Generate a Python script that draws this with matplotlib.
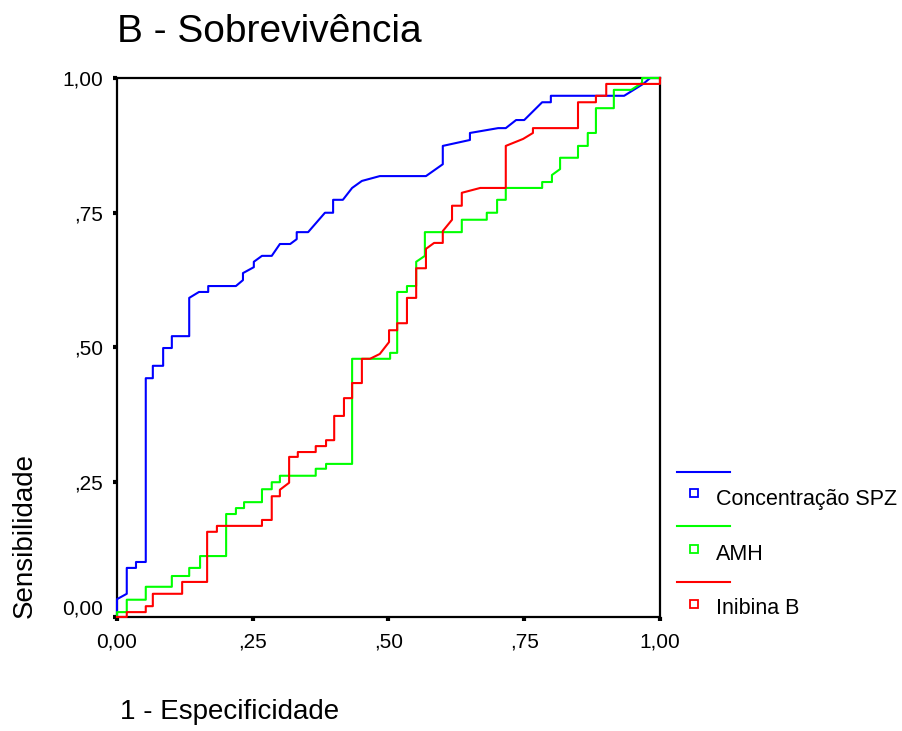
import matplotlib
matplotlib.use('Agg')
import matplotlib.pyplot as plt
from matplotlib.lines import Line2D
from matplotlib.transforms import ScaledTranslation

plt.rcParams['font.family'] = ['Liberation Sans', 'DejaVu Sans']

# ROC curves (1 - especificidade, sensibilidade)
spz_fpr = [0, 0, .018, .018, .035, .035, .053, .053, .066, .066, .085, .085, .101, .101,
           .133, .133, .151, .168, .168, .219, .232, .232, .252, .252, .267, .285, .300,
           .319, .331, .331, .352, .383, .398, .398, .416, .433, .451, .484, .569, .600,
           .600, .650, .650, .702, .716, .735, .750, .783, .799, .799, .934, .969, .982, 1.0]
spz_tpr = [0, .033, .043, .091, .091, .102, .102, .443, .443, .466, .466, .499, .499, .521,
           .521, .592, .603, .603, .614, .614, .625, .638, .649, .659, .670, .670, .692,
           .692, .701, .714, .714, .750, .750, .774, .774, .796, .809, .818, .818, .840,
           .874, .885, .898, .907, .907, .922, .922, .955, .955, .967, .967, .989, 1.0, 1.0]

amh_fpr = [0, 0, .018, .018, .053, .053, .101, .101, .133, .133, .153, .153, .201, .201,
           .219, .219, .234, .234, .267, .267, .285, .285, .300, .300, .366, .366, .385,
           .385, .433, .433, .503, .503, .516, .516, .534, .534, .551, .551, .567, .567,
           .635, .635, .681, .681, .700, .700, .716, .716, .783, .783, .801, .801, .816,
           .816, .849, .849, .867, .867, .882, .882, .915, .915, .947, .967, .967, 1.0]
amh_tpr = [0, .009, .009, .032, .032, .056, .056, .076, .076, .091, .091, .113, .113, .191,
           .191, .202, .202, .213, .213, .237, .237, .250, .250, .262, .262, .275, .275,
           .284, .284, .479, .479, .490, .490, .603, .603, .614, .614, .659, .670, .714,
           .714, .737, .737, .750, .750, .774, .774, .796, .796, .807, .807, .820, .831,
           .852, .852, .874, .874, .898, .898, .944, .944, .978, .978, .991, 1.0, 1.0]

inib_fpr = [0, .018, .018, .053, .053, .066, .066, .120, .120, .166, .166, .184, .184, .267,
            .267, .285, .285, .300, .300, .317, .317, .333, .333, .366, .366, .385, .385,
            .400, .400, .418, .418, .433, .433, .451, .451, .466, .484, .501, .501, .516,
            .516, .534, .534, .551, .551, .569, .569, .584, .600, .600, .617, .617, .635,
            .635, .669, .716, .716, .748, .766, .766, .849, .849, .882, .882, .901, .901, 1.0, 1.0]
inib_tpr = [0, 0, .009, .009, .020, .020, .043, .043, .065, .065, .158, .158, .169, .169,
            .180, .180, .224, .224, .236, .249, .297, .297, .306, .306, .317, .317, .328,
            .328, .373, .373, .406, .406, .434, .434, .479, .479, .488, .510, .532, .532,
            .545, .545, .592, .592, .647, .647, .683, .694, .694, .716, .737, .763, .763,
            .787, .796, .796, .874, .887, .898, .907, .907, .955, .955, .967, .967, .989, .989, 1.0]

series_names = ['Concentração SPZ', 'AMH', 'Inibina B']
series_colors = ['#0000ff', '#00ff00', '#ff0000']
ticks = [0, .25, .5, .75, 1.0]
tick_labels = ['0,00', ',25', ',50', ',75', '1,00']

fig = plt.figure(figsize=(9.02, 7.31), dpi=100)
ax = fig.add_axes([0.1297, 0.156, 0.602, 0.7373])

curves = [(spz_fpr, spz_tpr), (amh_fpr, amh_tpr), (inib_fpr, inib_tpr)]
for (fx, fy), c in zip(curves, series_colors):
    ax.plot(fx, fy, color=c, lw=1.5, clip_on=False, zorder=3)

ax.set_xlim(0, 1)
ax.set_ylim(0, 1)
ax.set_xticks(ticks)
ax.set_xticklabels(tick_labels)
ax.set_yticks(ticks)
ax.set_yticklabels(tick_labels)
ax.tick_params(axis='both', direction='out', length=3, width=3, labelsize=15)
ax.tick_params(axis='x', pad=8)
ax.tick_params(axis='y', pad=7)
for s in ax.spines.values():
    s.set_linewidth(1.6)
    s.set_color('black')

# the 0,00 label on the y axis sits a bit above its tick
lab0 = ax.get_yticklabels()[0]
lab0.set_transform(lab0.get_transform() + ScaledTranslation(0, 0.10, fig.dpi_scale_trans))

# titles and axis labels
fig.text(0.1297, 1 - 42 / 731, 'B - Sobrevivência', fontsize=28, va='baseline', ha='left')
fig.text(120 / 902, 1 - 712 / 731, '1 - Especificidade', fontsize=20, va='center', ha='left')
fig.text(25 / 902, 1 - 536 / 731, 'Sensibilidade', fontsize=20, va='center', ha='center',
         rotation=90)

# legend built by hand: a line row, then a square with the name
line_y = [472, 526, 582]
box_y = [493, 549, 604]
text_y = [499, 554, 608]
for name, c, ly, by, ty in zip(series_names, series_colors, line_y, box_y, text_y):
    fig.add_artist(Line2D([677 / 902, 730 / 902], [1 - ly / 731, 1 - ly / 731],
                          color=c, lw=1.5, transform=fig.transFigure))
    fig.add_artist(Line2D([694 / 902], [1 - by / 731], marker='s', markersize=5.5,
                          markerfacecolor='white', markeredgecolor=c, markeredgewidth=1.3,
                          linestyle='none', transform=fig.transFigure))
    fig.text(716 / 902, 1 - ty / 731, name, fontsize=15.5, va='center', ha='left')

fig.savefig('out.png', dpi=100)
